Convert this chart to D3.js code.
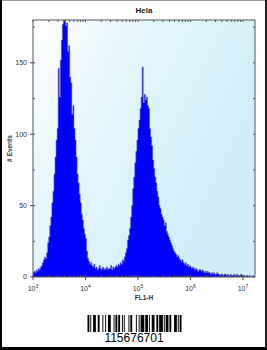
<!DOCTYPE html>
<html>
<head>
<meta charset="utf-8">
<script src="https://cdn.jsdelivr.net/npm/d3@7"></script>
<style>
  body { margin: 0; background: #fff; }
  svg { display: block; font-family: "Liberation Sans", Arial, sans-serif; }
</style>
</head>
<body>
<div id="chart"></div>
<script>
const title = "Hela";
const xLabel = "FL1-H";
const yLabel = "# Events";

// histogram channels: log10 start + width, one count per channel
const logStart = 3;
const logStep = 0.02;
const counts = [
  3, 4, 3, 5, 4, 6, 5, 7, 8, 10,
  12, 14, 13, 17, 24, 28, 36, 42, 52, 60,
  72, 84, 96, 104, 146, 126, 152, 166, 177, 184,
  182, 176, 178, 158, 162, 140, 136, 114, 120, 104,
  96, 84, 72, 66, 58, 52, 44, 40, 34, 30,
  27, 18, 13, 11, 9, 10, 8, 7, 9, 6,
  7, 5, 6, 8, 6, 5, 7, 6, 5, 6,
  7, 5, 6, 6, 8, 5, 7, 6, 7, 8,
  7, 9, 8, 10, 9, 12, 11, 14, 17, 20,
  26, 29, 34, 42, 50, 62, 70, 80, 88, 96,
  104, 110, 118, 126, 147, 122, 128, 124, 126, 120,
  118, 104, 98, 92, 82, 76, 70, 66, 60, 56,
  50, 48, 44, 42, 40, 36, 38, 32, 30, 28,
  26, 24, 22, 20, 18, 17, 16, 14, 15, 13,
  12, 11, 12, 10, 9, 10, 8, 9, 7, 8,
  7, 6, 7, 6, 5, 6, 5, 4, 5, 5,
  4, 5, 4, 3, 4, 3, 4, 3, 3, 2,
  3, 2, 3, 2, 2, 3, 2, 2, 1, 2,
  2, 1, 2, 2, 1, 2, 1, 1, 2, 1,
  1, 2, 1, 1, 2, 1, 1, 1, 2, 1,
  1, 1, 0, 1, 1, 0, 1, 0, 0, 1, 0
];

const yTicks = [0, 50, 100, 150];
const yMinorTicks = [25, 75, 125, 175];
const xDecades = [3, 4, 5, 6, 7];

const barcodeText = "115676701";
// Code 128 bar/space module widths
const barcodePattern =
  "211232" + "231212" + "331121" + "221114" + "112412" +
  "114131" + "123221" + "411131" + "2331112";

const width = 267;
const height = 350;
const margin = { top: 20, right: 12, bottom: 73, left: 33 };

const svg = d3
  .select("#chart")
  .append("svg")
  .attr("width", width)
  .attr("height", height);

const x = d3
  .scaleLog()
  .domain([1e3, Math.pow(10, 7.23)])
  .range([margin.left, width - margin.right]);
const y = d3
  .scaleLinear()
  .domain([0, 180])
  .range([height - margin.bottom, margin.top]);

const defs = svg.append("defs");
const grad = defs
  .append("linearGradient")
  .attr("id", "bg")
  .attr("x1", 0)
  .attr("y1", 0)
  .attr("x2", 0.9)
  .attr("y2", 0.5);
grad.append("stop").attr("offset", "0%").attr("stop-color", "#ffffff");
grad.append("stop").attr("offset", "40%").attr("stop-color", "#e6f6fc");
grad.append("stop").attr("offset", "100%").attr("stop-color", "#d0eff9");

defs
  .append("clipPath")
  .attr("id", "plot-clip")
  .append("rect")
  .attr("x", x.range()[0])
  .attr("y", y.range()[1])
  .attr("width", x.range()[1] - x.range()[0])
  .attr("height", y.range()[0] - y.range()[1]);

// outer frame
svg
  .append("rect")
  .attr("x", 0.5)
  .attr("y", 0.5)
  .attr("width", width - 1)
  .attr("height", height - 1)
  .attr("fill", "none")
  .attr("stroke", "#999");
svg.append("line").attr("x1", 1).attr("x2", 1).attr("y1", 0).attr("y2", height)
  .attr("stroke", "#000").attr("stroke-width", 2);
svg.append("line").attr("x1", width - 1).attr("x2", width - 1).attr("y1", 0).attr("y2", height)
  .attr("stroke", "#222").attr("stroke-width", 2);
svg.append("line").attr("x1", 0).attr("x2", width).attr("y1", height - 1.5).attr("y2", height - 1.5)
  .attr("stroke", "#000").attr("stroke-width", 3);

// plot background
svg
  .append("rect")
  .attr("x", x.range()[0])
  .attr("y", y.range()[1])
  .attr("width", x.range()[1] - x.range()[0])
  .attr("height", y.range()[0] - y.range()[1])
  .attr("fill", "url(#bg)");

// histogram
const bins = counts.map((c, i) => ({ lo: logStart + i * logStep, c }));
bins.push({ lo: logStart + counts.length * logStep, c: 0 });

const area = d3
  .area()
  .curve(d3.curveStepAfter)
  .x((d) => x(Math.pow(10, d.lo)))
  .y0(y(0))
  .y1((d) => y(d.c));

svg
  .append("path")
  .datum(bins)
  .attr("clip-path", "url(#plot-clip)")
  .attr("d", area)
  .attr("fill", "#0000ff")
  .attr("stroke", "#5a5aa8")
  .attr("stroke-width", 0.6);

// frame of the plot
const axisColor = "#555";
svg
  .append("rect")
  .attr("x", x.range()[0])
  .attr("y", y.range()[1])
  .attr("width", x.range()[1] - x.range()[0])
  .attr("height", y.range()[0] - y.range()[1])
  .attr("fill", "none")
  .attr("stroke", axisColor)
  .attr("stroke-width", 1);

const x0 = x.range()[0];
const x1 = x.range()[1];
const y0 = y.range()[0];
const y1 = y.range()[1];

// y ticks (left outside + inside, right inside)
const yt = svg.append("g").attr("stroke", axisColor).attr("stroke-width", 1);
yTicks.forEach((t) => {
  yt.append("line").attr("x1", x0 - 3).attr("x2", x0 + 2).attr("y1", y(t)).attr("y2", y(t));
  yt.append("line").attr("x1", x1 - 2).attr("x2", x1).attr("y1", y(t)).attr("y2", y(t));
});
yMinorTicks.forEach((t) => {
  yt.append("line").attr("x1", x0).attr("x2", x0 + 2).attr("y1", y(t)).attr("y2", y(t));
  yt.append("line").attr("x1", x1 - 2).attr("x2", x1).attr("y1", y(t)).attr("y2", y(t));
});

svg
  .append("g")
  .selectAll("text")
  .data(yTicks)
  .join("text")
  .attr("x", x0 - 6)
  .attr("y", (d) => y(d))
  .attr("dy", "0.35em")
  .attr("text-anchor", "end")
  .attr("font-size", 7)
  .attr("fill", "#333")
  .text((d) => d);

// x ticks: decades and log minors
const xt = svg.append("g").attr("stroke", axisColor).attr("stroke-width", 1);
const minorX = [];
xDecades.forEach((e) => {
  for (let m = 2; m <= 9; m++) {
    const v = m * Math.pow(10, e);
    if (v < x.domain()[1]) minorX.push(v);
  }
});
xDecades.forEach((e) => {
  const px = x(Math.pow(10, e));
  xt.append("line").attr("x1", px).attr("x2", px).attr("y1", y0 - 2).attr("y2", y0 + 3);
  xt.append("line").attr("x1", px).attr("x2", px).attr("y1", y1).attr("y2", y1 + 2);
});
minorX.forEach((v) => {
  const px = x(v);
  xt.append("line").attr("x1", px).attr("x2", px).attr("y1", y0 - 2).attr("y2", y0);
  xt.append("line").attr("x1", px).attr("x2", px).attr("y1", y1).attr("y2", y1 + 2);
});

const xl = svg
  .append("g")
  .selectAll("text")
  .data(xDecades)
  .join("text")
  .attr("x", (d) => x(Math.pow(10, d)))
  .attr("y", y0 + 14)
  .attr("text-anchor", "middle")
  .attr("font-size", 7)
  .attr("fill", "#333");
xl.append("tspan").text("10");
xl.append("tspan").attr("dy", -3).attr("font-size", 5).text((d) => d);

// titles
svg
  .append("text")
  .attr("x", (x0 + x1) / 2)
  .attr("y", 13)
  .attr("text-anchor", "middle")
  .attr("font-size", 8)
  .attr("font-weight", "bold")
  .attr("fill", "#222")
  .text(title);

svg
  .append("text")
  .attr("x", (x0 + x1) / 2)
  .attr("y", y0 + 23)
  .attr("text-anchor", "middle")
  .attr("font-size", 6.5)
  .attr("font-weight", "bold")
  .attr("fill", "#333")
  .text(xLabel);

svg
  .append("text")
  .attr("transform", `translate(12, ${(y0 + y1) / 2}) rotate(-90)`)
  .attr("text-anchor", "middle")
  .attr("font-size", 6.5)
  .attr("font-weight", "bold")
  .attr("fill", "#333")
  .text(yLabel);

// barcode
const widths = barcodePattern.split("").map(Number);
const totalModules = d3.sum(widths);
const bx = d3.scaleLinear().domain([0, totalModules]).range([87.5, 181.5]);
const bars = [];
let pos = 0;
widths.forEach((w, i) => {
  if (i % 2 === 0) bars.push({ start: pos, w });
  pos += w;
});
svg
  .append("g")
  .selectAll("rect")
  .data(bars)
  .join("rect")
  .attr("x", (d) => bx(d.start))
  .attr("y", 315)
  .attr("width", (d) => bx(d.start + d.w) - bx(d.start))
  .attr("height", 17)
  .attr("fill", "#000");

svg
  .append("text")
  .attr("x", 134)
  .attr("y", 342)
  .attr("text-anchor", "middle")
  .attr("font-size", 12)
  .attr("fill", "#000")
  .text(barcodeText);
</script>
</body>
</html>
